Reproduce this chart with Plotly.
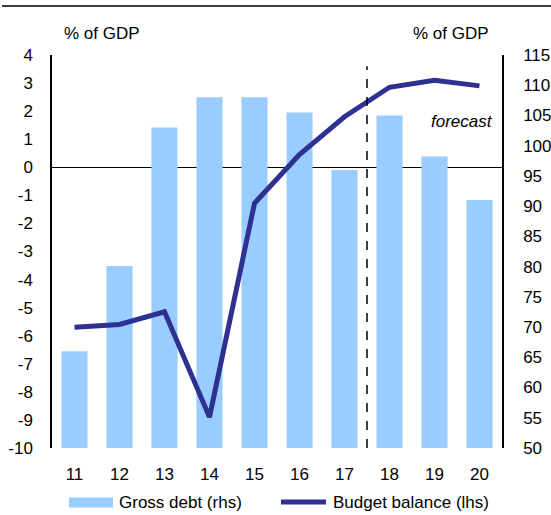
import plotly.graph_objects as go

years = ["11", "12", "13", "14", "15", "16", "17", "18", "19", "20"]
gross_debt = [66.0, 80.1, 103.0, 108.0, 108.0, 105.5, 96.0, 105.0, 98.2, 91.0]
budget_balance = [-5.7, -5.6, -5.15, -8.9, -1.28, 0.45, 1.8, 2.85, 3.1, 2.9]
left_ticks = list(range(-10, 5))
left_ticktext = [str(v) for v in left_ticks]
right_ticks = list(range(50, 120, 5))

BAR = "#99CCFF"
LINE = "#2E3192"
FONT = "Arial, Liberation Sans, sans-serif"
FS = 17

fig = go.Figure()
fig.add_trace(go.Bar(x=years, y=gross_debt, yaxis="y", marker=dict(color=BAR, line=dict(width=0)),
                     name="Gross debt (rhs)", showlegend=False))
fig.add_trace(go.Scatter(x=years, y=budget_balance, yaxis="y2", mode="lines",
                         line=dict(color=LINE, width=5), name="Budget balance (lhs)", showlegend=False))

W, H = 551, 515
L, R, T, B = 52, 49, 55, 67
pw, ph = W - L - R, H - T - B

def px(x):
    return (x - L) / pw

def py(y):
    return 1 - (y - T) / ph

fig.update_layout(
    width=W, height=H,
    margin=dict(l=L, r=R, t=T, b=B, autoexpand=False),
    paper_bgcolor="white", plot_bgcolor="white",
    font=dict(family=FONT, size=FS, color="black"),
    bargap=0.42,
    xaxis=dict(type="category", showgrid=False, showline=False, ticks="", automargin=False,
               ticklabelstandoff=14, tickfont=dict(size=FS)),
    yaxis=dict(range=[50, 115], tickvals=right_ticks, side="right", automargin=False,
               showgrid=False, showline=True, linecolor="black", linewidth=1.5, ticks="",
               zeroline=False, ticklabelstandoff=16, tickfont=dict(size=FS)),
    yaxis2=dict(range=[-10, 4], tickvals=left_ticks, ticktext=left_ticktext, showgrid=False,
                overlaying="y", side="left", automargin=False,
                showline=True, linecolor="black", linewidth=1.5, ticks="",
                zeroline=True, zerolinecolor="black", zerolinewidth=1,
                ticklabelstandoff=14, tickfont=dict(size=FS)),
    shapes=[
        dict(type="line", xref="x", yref="y2", x0=6.5, x1=6.5, y0=-10, y1=3.6,
             line=dict(color="black", width=1.5, dash="dash")),
        dict(type="line", xref="paper", yref="paper", x0=px(2), x1=px(551), y0=py(6), y1=py(6),
             line=dict(color="black", width=1.5)),
        dict(type="rect", xref="paper", yref="paper", x0=px(69), x1=px(113), y0=py(497.5), y1=py(507.5),
             fillcolor=BAR, line=dict(width=0)),
        dict(type="line", xref="paper", yref="paper", x0=px(281), x1=px(326), y0=py(502), y1=py(502),
             line=dict(color=LINE, width=5)),
    ],
    annotations=[
        dict(text="% of GDP", xref="paper", yref="paper", x=px(62), y=py(33), xanchor="left",
             yanchor="middle", showarrow=False, font=dict(size=FS)),
        dict(text="% of GDP", xref="paper", yref="paper", x=px(491), y=py(33), xanchor="right",
             yanchor="middle", showarrow=False, font=dict(size=FS)),
        dict(text="<i>forecast</i>", xref="paper", yref="paper", x=px(495), y=py(121), xanchor="right",
             yanchor="middle", showarrow=False, font=dict(size=FS)),
        dict(text="Gross debt (rhs)", xref="paper", yref="paper", x=px(117), y=py(502), xanchor="left",
             yanchor="middle", showarrow=False, font=dict(size=FS)),
        dict(text="Budget balance (lhs)", xref="paper", yref="paper", x=px(331), y=py(502), xanchor="left",
             yanchor="middle", showarrow=False, font=dict(size=FS)),
    ],
)

fig.write_html("out.html", config={"displayModeBar": False},
               post_script="document.body.style.margin='0px';document.body.style.overflow='hidden';")
